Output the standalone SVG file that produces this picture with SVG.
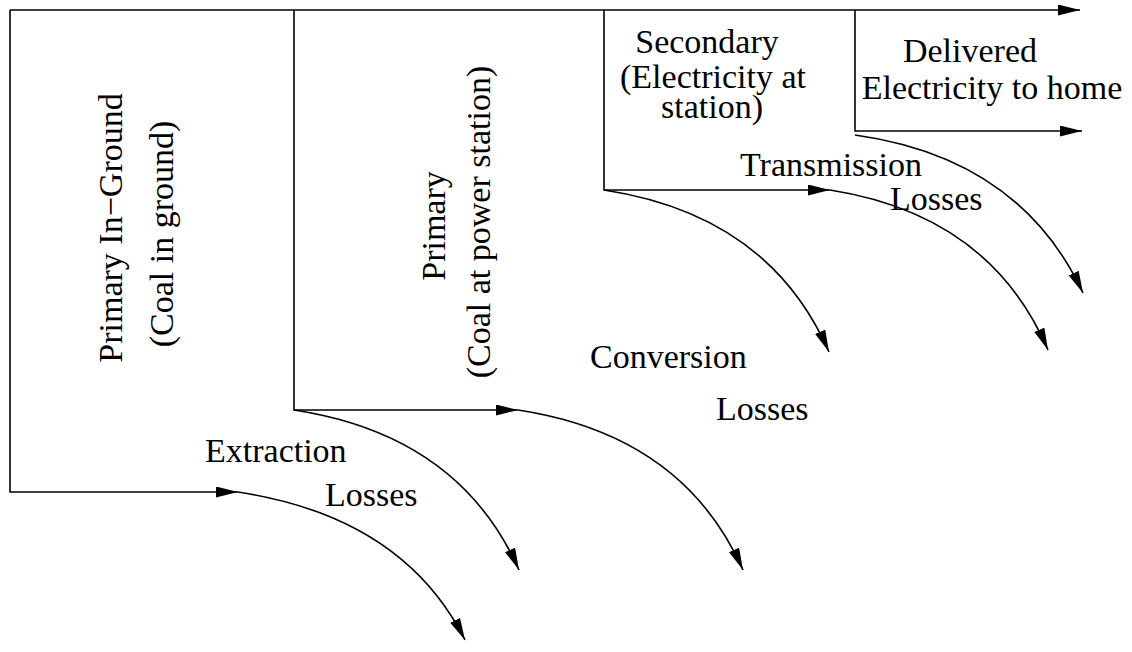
<svg xmlns="http://www.w3.org/2000/svg" width="1132" height="652" viewBox="0 0 1132 652">
<style>
  .ln { fill: none; stroke: #000; stroke-width: 1.6; }
  .arr { marker-end: url(#ah); }
  text { font-family: "Liberation Serif", "Times New Roman", serif; font-size: 34px; fill: #000; }
  .c { text-anchor: middle; }
</style>
<defs>
  <marker id="ah" markerUnits="userSpaceOnUse" markerWidth="24" markerHeight="12" refX="22" refY="5.5" orient="auto">
    <path d="M0,0 L22,5.5 L0,11 z" fill="#000"/>
  </marker>
</defs>
<rect width="1132" height="652" fill="#fff"/>

<g id="stage-in-ground">
  <path class="ln arr" d="M10,10 L10,492 L238,492"/>
  <text class="c" transform="translate(122,228) rotate(-90)">Primary In−Ground</text>
  <text class="c" transform="translate(173,234) rotate(-90)">(Coal in ground)</text>
</g>

<g id="stage-primary">
  <path class="ln arr" d="M294,10 L294,410 L518,410"/>
  <text class="c" transform="translate(445,226) rotate(-90)">Primary</text>
  <text class="c" transform="translate(490,222) rotate(-90)">(Coal at power station)</text>
</g>

<g id="stage-secondary">
  <path class="ln arr" d="M604,10 L604,190 L830,190"/>
  <text class="c" x="707" y="53">Secondary</text>
  <text class="c" x="713" y="88">(Electricity at</text>
  <text class="c" x="712" y="118">station)</text>
</g>

<g id="stage-delivered">
  <path class="ln arr" d="M855,10 L855,131 L1082,131"/>
  <text class="c" x="970" y="62">Delivered</text>
  <text class="c" x="992" y="99">Electricity to home</text>
</g>

<g id="connectors">
  <path class="ln arr" d="M10,10 L1080,10"/>
  <path class="ln arr" d="M238,492 Q403,517 465,640"/>
  <path class="ln arr" d="M294,410 Q459,435 519,570"/>
  <path class="ln arr" d="M518,410 Q683,435 743,570"/>
  <path class="ln arr" d="M604,190 Q769,215 829,352"/>
  <path class="ln arr" d="M830,190 Q990,215 1048,350"/>
  <path class="ln arr" d="M855,135 Q1020,158 1083,293"/>
</g>

<g id="loss-labels">
  <text x="205" y="462">Extraction</text>
  <text x="325" y="506">Losses</text>
  <text x="590" y="368">Conversion</text>
  <text x="716" y="420">Losses</text>
  <text x="740" y="176">Transmission</text>
  <text x="890" y="210">Losses</text>
</g>
</svg>
